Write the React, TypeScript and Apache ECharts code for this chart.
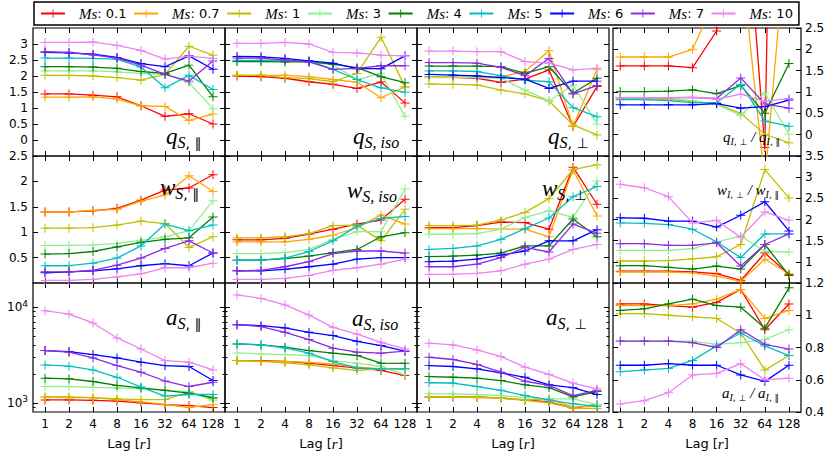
import React, { useEffect, useRef } from 'react';
import * as echarts from 'echarts';

const LAGS = [1, 2, 4, 8, 16, 32, 64, 128];
const MS_VALUES = ['0.1', '0.7', '1', '3', '4', '5', '6', '7', '10'];
const COLORS = ['#ff0000', '#ffa500', '#bfbf00', '#90ee90', '#008000', '#00bfbf', '#0000ff', '#8a2be2', '#ee82ee'];

// each table: one row per Ms value (same order as MS_VALUES), one column per lag
const Q_PAR = [
  [1.44, 1.44, 1.40, 1.35, 1.07, 0.74, 0.82, 0.50],
  [1.34, 1.34, 1.35, 1.28, 1.07, 1.05, 0.61, 0.81],
  [2.02, 2.02, 2.00, 1.95, 1.87, 2.05, 2.93, 2.65],
  [2.16, 2.16, 2.16, 2.13, 2.08, 2.05, 1.79, 0.98],
  [2.29, 2.29, 2.28, 2.24, 2.14, 2.08, 2.34, 1.35],
  [2.56, 2.56, 2.55, 2.53, 2.28, 1.63, 2.02, 1.58],
  [2.74, 2.72, 2.68, 2.58, 2.39, 2.29, 2.63, 2.21],
  [2.76, 2.74, 2.66, 2.56, 2.34, 2.05, 1.84, 2.47],
  [3.05, 3.05, 3.06, 2.96, 2.80, 2.53, 2.62, 2.55],
];
const Q_ISO = [
  [2.00, 1.98, 1.93, 1.82, 1.74, 1.61, 1.81, 1.16],
  [2.02, 2.02, 2.02, 1.98, 1.89, 1.81, 1.32, 1.66],
  [2.02, 2.02, 1.95, 1.92, 1.82, 2.08, 3.21, 1.66],
  [2.47, 2.47, 2.47, 2.44, 2.35, 1.89, 2.08, 0.74],
  [2.45, 2.45, 2.44, 2.44, 2.37, 2.26, 1.98, 1.79],
  [2.49, 2.49, 2.49, 2.47, 2.21, 1.89, 1.63, 1.49],
  [2.61, 2.60, 2.55, 2.47, 2.40, 2.23, 2.23, 2.63],
  [2.56, 2.56, 2.50, 2.44, 2.21, 2.24, 2.32, 2.32],
  [3.02, 3.02, 3.05, 3.00, 2.74, 2.72, 2.65, 2.63],
];
const Q_PERP = [
  [1.98, 1.96, 1.93, 1.80, 1.90, 2.19, 0.42, 1.67],
  [1.98, 1.98, 1.95, 1.98, 2.14, 2.79, 0.42, 2.21],
  [1.75, 1.74, 1.72, 1.56, 1.44, 1.22, 0.47, 0.16],
  [1.95, 1.95, 1.95, 1.93, 1.56, 1.22, 1.72, 0.50],
  [2.31, 2.31, 2.31, 2.29, 2.08, 2.29, 1.46, 1.93],
  [2.16, 2.16, 2.14, 2.01, 1.87, 1.82, 1.01, 0.73],
  [2.05, 2.03, 2.00, 1.95, 1.90, 1.61, 1.84, 1.84],
  [2.42, 2.42, 2.40, 2.27, 2.01, 2.55, 1.44, 1.70],
  [2.78, 2.78, 2.76, 2.76, 2.45, 2.40, 2.19, 2.24],
];
const Q_RATIO = [
  [1.61, 1.61, 1.61, 1.57, 2.43, 7.0, -0.30, 30.0],
  [1.82, 1.82, 1.82, 2.00, 3.24, 4.2, -1.10, 5.4],
  [0.83, 0.83, 0.82, 0.78, 0.72, 0.50, 0.01, -0.19],
  [0.85, 0.85, 0.85, 0.80, 0.71, 0.45, 0.98, 0.01],
  [1.01, 1.01, 1.02, 1.05, 0.96, 1.15, 0.50, 1.67],
  [0.82, 0.82, 0.80, 0.75, 0.75, 1.18, 0.32, 0.20],
  [0.70, 0.70, 0.70, 0.70, 0.73, 0.62, 0.66, 0.81],
  [0.87, 0.87, 0.87, 0.87, 0.85, 1.33, 0.72, 0.62],
  [0.87, 0.87, 0.87, 0.88, 0.83, 0.95, 0.78, 0.85],
];
const W_PAR = [
  [1.40, 1.40, 1.42, 1.47, 1.63, 1.83, 1.87, 2.13],
  [1.40, 1.40, 1.43, 1.45, 1.61, 1.73, 2.11, 1.80],
  [1.08, 1.08, 1.09, 1.14, 1.22, 1.17, 0.70, 0.91],
  [0.74, 0.74, 0.75, 0.78, 0.84, 0.91, 1.03, 1.62],
  [0.57, 0.58, 0.62, 0.71, 0.80, 0.86, 0.89, 1.30],
  [0.34, 0.34, 0.39, 0.49, 0.73, 1.16, 1.03, 1.14],
  [0.20, 0.22, 0.24, 0.28, 0.34, 0.38, 0.34, 0.59],
  [0.22, 0.22, 0.25, 0.35, 0.49, 0.68, 0.83, 0.59],
  [0.05, 0.05, 0.07, 0.12, 0.18, 0.30, 0.30, 0.39],
];
const W_ISO = [
  [0.85, 0.85, 0.88, 0.96, 1.06, 1.16, 1.24, 1.65],
  [0.81, 0.81, 0.81, 0.86, 0.94, 1.09, 1.34, 1.16],
  [0.89, 0.89, 0.91, 0.97, 1.13, 1.14, 0.83, 1.45],
  [0.58, 0.58, 0.60, 0.66, 0.86, 1.01, 1.01, 1.85],
  [0.45, 0.45, 0.48, 0.53, 0.60, 0.66, 0.91, 0.99],
  [0.45, 0.45, 0.49, 0.62, 0.83, 1.12, 1.27, 1.31],
  [0.24, 0.24, 0.27, 0.32, 0.37, 0.47, 0.50, 0.50],
  [0.24, 0.25, 0.32, 0.42, 0.58, 0.63, 0.63, 0.59],
  [0.07, 0.07, 0.09, 0.15, 0.25, 0.30, 0.37, 0.47],
];
const W_PERP = [
  [1.09, 1.09, 1.13, 1.20, 1.19, 1.06, 2.28, 1.55],
  [1.07, 1.07, 1.07, 1.06, 1.06, 0.91, 2.23, 1.32],
  [1.13, 1.13, 1.14, 1.24, 1.39, 1.66, 2.23, 2.33],
  [0.96, 0.96, 0.97, 1.06, 1.29, 1.42, 1.29, 2.01],
  [0.52, 0.53, 0.55, 0.59, 0.73, 0.73, 1.26, 0.91],
  [0.66, 0.68, 0.73, 0.86, 1.07, 1.28, 1.70, 1.90],
  [0.42, 0.43, 0.47, 0.55, 0.63, 0.83, 0.83, 1.05],
  [0.32, 0.32, 0.37, 0.50, 0.70, 0.61, 1.16, 0.98],
  [0.17, 0.17, 0.19, 0.24, 0.37, 0.47, 0.66, 0.76],
];
const W_RATIO = [
  [0.78, 0.78, 0.78, 0.76, 0.72, 0.56, 1.21, 0.70],
  [0.76, 0.76, 0.76, 0.74, 0.66, 0.54, 1.06, 0.72],
  [1.02, 1.02, 1.03, 1.07, 1.12, 1.41, 3.18, 2.51],
  [1.27, 1.27, 1.27, 1.31, 1.47, 1.61, 1.25, 1.23],
  [0.91, 0.91, 0.87, 0.83, 0.90, 0.83, 1.41, 0.68],
  [1.92, 1.91, 1.88, 1.77, 1.47, 1.10, 1.66, 1.66],
  [2.04, 2.03, 1.96, 1.96, 1.82, 2.10, 2.42, 1.73],
  [1.43, 1.43, 1.39, 1.39, 1.45, 0.90, 1.41, 1.66],
  [2.83, 2.75, 2.54, 1.92, 1.98, 1.58, 2.18, 1.98],
];
const A_PAR = [
  [1070, 1070, 1060, 1040, 1000, 955, 935, 890],
  [1150, 1130, 1130, 1080, 1020, 960, 890, 960],
  [1150, 1150, 1130, 1100, 1080, 1080, 1290, 1100],
  [1480, 1480, 1450, 1430, 1400, 1350, 1310, 1060],
  [1810, 1780, 1670, 1520, 1430, 1350, 1260, 1130],
  [2490, 2420, 2210, 1850, 1460, 1175, 1220, 1220],
  [3520, 3440, 3200, 2950, 2660, 2450, 2400, 1710],
  [3520, 3390, 2950, 2450, 2090, 1690, 1480, 1640],
  [9230, 8510, 6860, 4780, 3660, 2770, 2660, 2210],
];
const A_ISO = [
  [2770, 2770, 2710, 2600, 2450, 2320, 2180, 1930],
  [2770, 2720, 2710, 2650, 2550, 2360, 2270, 2270],
  [2770, 2710, 2620, 2500, 2320, 2180, 2270, 2270],
  [3330, 3250, 3200, 3130, 2770, 2600, 2400, 1960],
  [4140, 4040, 3820, 3520, 3310, 3130, 2600, 2590],
  [4140, 4040, 3760, 3310, 2700, 2320, 2270, 2270],
  [6590, 6430, 6080, 5480, 5060, 4410, 3980, 3470],
  [6590, 6290, 5480, 4590, 3730, 3390, 3310, 3470],
  [13500, 12400, 10600, 8300, 6170, 5250, 4300, 3670],
];
const A_PERP = [
  [1150, 1150, 1150, 1120, 1070, 1020, 880, 960],
  [1150, 1150, 1130, 1120, 1070, 1100, 900, 920],
  [1150, 1150, 1150, 1120, 1060, 1000, 880, 870],
  [1240, 1240, 1220, 1190, 1130, 1100, 1100, 960],
  [1880, 1850, 1810, 1710, 1540, 1440, 1150, 1310],
  [1620, 1610, 1480, 1350, 1190, 1070, 975, 920],
  [2450, 2400, 2270, 2060, 1850, 1540, 1440, 1220],
  [3000, 2840, 2520, 2090, 1680, 1520, 1190, 1350],
  [4210, 4040, 3580, 3050, 2360, 1980, 1610, 1400],
];
const A_RATIO = [
  [1.07, 1.07, 1.06, 1.05, 1.08, 1.16, 0.91, 1.07],
  [1.06, 1.06, 1.06, 1.07, 1.10, 1.16, 0.98, 1.03],
  [1.01, 1.01, 1.00, 0.99, 0.98, 0.89, 0.66, 0.75],
  [0.84, 0.84, 0.84, 0.84, 0.82, 0.83, 0.85, 0.91],
  [1.03, 1.04, 1.07, 1.10, 1.06, 1.05, 0.92, 1.17],
  [0.65, 0.66, 0.67, 0.72, 0.81, 0.89, 0.81, 0.75],
  [0.69, 0.69, 0.70, 0.69, 0.69, 0.63, 0.59, 0.69],
  [0.84, 0.84, 0.84, 0.83, 0.80, 0.91, 0.82, 0.79],
  [0.45, 0.47, 0.52, 0.63, 0.64, 0.70, 0.60, 0.61],
];

// y-axis tick/label values
const Q_TICKS = [0, 0.5, 1, 1.5, 2, 2.5, 3];
const QR_TICKS = [0, 0.5, 1, 1.5, 2, 2.5];
const W_TICKS = [0.5, 1, 1.5, 2, 2.5];
const WR_TICKS = [1, 1.5, 2, 2.5, 3, 3.5];
const A_MAJOR = [1000, 10000];
const A_MINOR = [900, 2000, 3000, 4000, 5000, 6000, 7000, 8000, 9000];
const AR_TICKS = [0.4, 0.6, 0.8, 1.0, 1.2];

const PANELS = [
  { data: Q_PAR, row: 0, col: 0, label: '{m|q}{si|S}{su|, ∥}' },
  { data: Q_ISO, row: 0, col: 1, label: '{m|q}{si|S, iso}' },
  { data: Q_PERP, row: 0, col: 2, label: '{m|q}{si|S}{su|, ⊥}' },
  { data: Q_RATIO, row: 0, col: 3, label: '{m|q}{si|I}{su|, ⊥}{m| / q}{si|I}{su|, ∥}' },
  { data: W_PAR, row: 1, col: 0, label: '{m|w}{si|S}{su|, ∥}' },
  { data: W_ISO, row: 1, col: 1, label: '{m|w}{si|S, iso}' },
  { data: W_PERP, row: 1, col: 2, label: '{m|w}{si|S}{su|, ⊥}' },
  { data: W_RATIO, row: 1, col: 3, label: '{m|w}{si|I}{su|, ⊥}{m| / w}{si|I}{su|, ∥}' },
  { data: A_PAR, row: 2, col: 0, label: '{m|a}{si|S}{su|, ∥}' },
  { data: A_ISO, row: 2, col: 1, label: '{m|a}{si|S, iso}' },
  { data: A_PERP, row: 2, col: 2, label: '{m|a}{si|S}{su|, ⊥}' },
  { data: A_RATIO, row: 2, col: 3, label: '{m|a}{si|I}{su|, ⊥}{m| / a}{si|I}{su|, ∥}' },
];

// layout
const COL_X = [33, 225, 417, 613];
const COL_W = [192, 192, 192, 188];
const ROW_Y = [28, 156, 283];
const ROW_H = [128, 127, 129];
const LABEL_POS = [
  [166, 136], [353, 136], [548, 136], [723, 137],
  [160, 187], [347, 190], [542, 188], [717, 190],
  [166, 317], [352, 318], [546, 317], [722, 393],
];

const SERIF = 'Liberation Serif';
const SANS = 'DejaVu Sans';
const PLUS = 'path://M4.45,0H5.55V10H4.45Z M0,4.45H10V5.55H0Z';

function yConfig(row: number, col: number) {
  if (row === 0 && col < 3) return { type: 'value', min: -0.5, max: 3.5, ticks: Q_TICKS, labels: Q_TICKS };
  if (row === 0) return { type: 'value', min: -0.5, max: 2.5, ticks: QR_TICKS, labels: QR_TICKS };
  if (row === 1 && col < 3) return { type: 'value', min: 0, max: 2.5, ticks: W_TICKS, labels: W_TICKS };
  if (row === 1) return { type: 'value', min: 0.5, max: 3.5, ticks: WR_TICKS, labels: WR_TICKS };
  if (col < 3) return { type: 'log', min: 800, max: 18000, ticks: A_MAJOR, labels: A_MAJOR, minor: A_MINOR };
  return { type: 'value', min: 0.4, max: 1.2, ticks: AR_TICKS, labels: AR_TICKS };
}

function yAxisDef(gi: number, pos: string, cfg: any, showLabel: boolean, ticks: number[], len: number) {
  const ax: any = {
    gridIndex: gi,
    type: cfg.type,
    position: pos,
    min: cfg.min,
    max: cfg.max,
    axisLine: { show: false, onZero: false },
    splitLine: { show: false },
    minorTick: { show: false },
    axisTick: { show: true, inside: true, length: len, customValues: ticks, lineStyle: { color: '#000', width: 1 } },
    axisLabel: {
      show: showLabel,
      customValues: cfg.labels,
      color: '#000',
      fontSize: 12,
      fontFamily: SANS,
      margin: pos === 'left' ? 5 : 4,
    },
  };
  if (cfg.type === 'log') {
    ax.logBase = 10;
    ax.axisLabel.formatter = (v: number) => (v >= 5000 ? '10{sup|4}' : '10{sup|3}');
    ax.axisLabel.rich = { sup: { fontSize: 9, fontFamily: SANS, verticalAlign: 'top', lineHeight: 9 } };
    ax.axisLabel.lineHeight = 16;
  }
  return ax;
}

function xAxisDef(gi: number, pos: string, xmin: number, showLabel: boolean) {
  return {
    gridIndex: gi,
    type: 'log',
    logBase: 2,
    position: pos,
    min: xmin,
    max: Math.pow(2, 7.5),
    axisLine: { show: false, onZero: false },
    splitLine: { show: false },
    minorTick: { show: false },
    axisTick: { show: true, inside: true, length: 5, customValues: LAGS, lineStyle: { color: '#000', width: 1 } },
    axisLabel: { show: showLabel, customValues: LAGS, color: '#000', fontSize: 12, fontFamily: SANS, margin: 6 },
    name: showLabel ? 'Lag [{i|r}]' : '',
    nameLocation: 'middle',
    nameGap: 24,
    nameTextStyle: {
      color: '#000',
      fontSize: 13,
      fontFamily: SANS,
      rich: { i: { fontFamily: SERIF, fontStyle: 'italic', fontSize: 15, color: '#000' } },
    },
  };
}

function buildOption() {
  const grids: any[] = [];
  const xAxes: any[] = [];
  const yAxes: any[] = [];
  const series: any[] = [];
  const graphics: any[] = [];

  PANELS.forEach((p, gi) => {
    grids.push({
      left: COL_X[p.col],
      top: ROW_Y[p.row],
      width: COL_W[p.col],
      height: ROW_H[p.row],
      show: true,
      borderColor: '#000',
      borderWidth: 1.2,
      backgroundColor: 'rgba(0,0,0,0)',
    });
    const xmin = p.col === 3 ? Math.pow(2, -0.3) : Math.pow(2, -0.5);
    const xIdx = xAxes.length;
    xAxes.push(xAxisDef(gi, 'bottom', xmin, p.row === 2));
    xAxes.push(xAxisDef(gi, 'top', xmin, false));
    const cfg = yConfig(p.row, p.col);
    const yIdx = yAxes.length;
    yAxes.push(yAxisDef(gi, 'left', cfg, p.col === 0, cfg.ticks, 5));
    yAxes.push(yAxisDef(gi, 'right', cfg, p.col === 3, cfg.ticks, 5));
    if (cfg.minor) {
      yAxes.push(yAxisDef(gi, 'left', cfg, false, cfg.minor, 2.5));
      yAxes.push(yAxisDef(gi, 'right', cfg, false, cfg.minor, 2.5));
    }
    p.data.forEach((vals, si) => {
      series.push({
        type: 'line',
        name: MS_VALUES[si],
        xAxisIndex: xIdx,
        yAxisIndex: yIdx,
        data: LAGS.map((r, i) => [r, vals[i]]),
        symbol: PLUS,
        symbolSize: 9,
        showSymbol: true,
        clip: true,
        itemStyle: { color: COLORS[si] },
        lineStyle: { color: COLORS[si], width: 1.3 },
        emphasis: { disabled: true },
        z: 2 + si,
      });
    });
    const small = p.col === 3;
    graphics.push({
      type: 'text',
      x: LABEL_POS[gi][0],
      y: LABEL_POS[gi][1],
      z: 100,
      style: {
        text: p.label,
        verticalAlign: 'middle',
        align: 'left',
        fill: '#000',
        rich: {
          m: { fontFamily: SERIF, fontStyle: 'italic', fontSize: small ? 15 : 23, lineHeight: small ? 18 : 28, fill: '#000' },
          si: { fontFamily: SERIF, fontStyle: 'italic', fontSize: small ? 10 : 16, lineHeight: small ? 10 : 16, verticalAlign: 'bottom', fill: '#000' },
          su: { fontFamily: SANS, fontSize: small ? 9 : 14, lineHeight: small ? 10 : 16, verticalAlign: 'bottom', fill: '#000' },
        },
      },
    });
  });

  return {
    animation: false,
    backgroundColor: '#fff',
    textStyle: { fontFamily: SANS },
    legend: {
      left: 34,
      top: 2,
      data: MS_VALUES,
      itemWidth: 24,
      itemHeight: 10,
      itemGap: 6.6,
      padding: [4, 6, 4, 6],
      borderColor: '#000',
      borderWidth: 1.5,
      selectedMode: false,
      formatter: (n: string) => `{i|Ms}: ${n}`,
      textStyle: {
        fontFamily: SANS,
        fontSize: 13,
        color: '#000',
        padding: [0, 0, 0, 9],
        rich: { i: { fontFamily: SERIF, fontStyle: 'italic', fontSize: 15, color: '#000' } },
      },
    },
    grid: grids,
    xAxis: xAxes,
    yAxis: yAxes,
    series,
    graphic: graphics,
  };
}

export default function App() {
  const ref = useRef<HTMLDivElement>(null);
  useEffect(() => {
    if (!ref.current) return;
    const chart = echarts.init(ref.current, null, { renderer: 'svg' });
    chart.setOption(buildOption() as any);
    return () => chart.dispose();
  }, []);
  return <div ref={ref} style={{ position: 'absolute', left: 0, top: 0, width: 830, height: 455 }} />;
}
